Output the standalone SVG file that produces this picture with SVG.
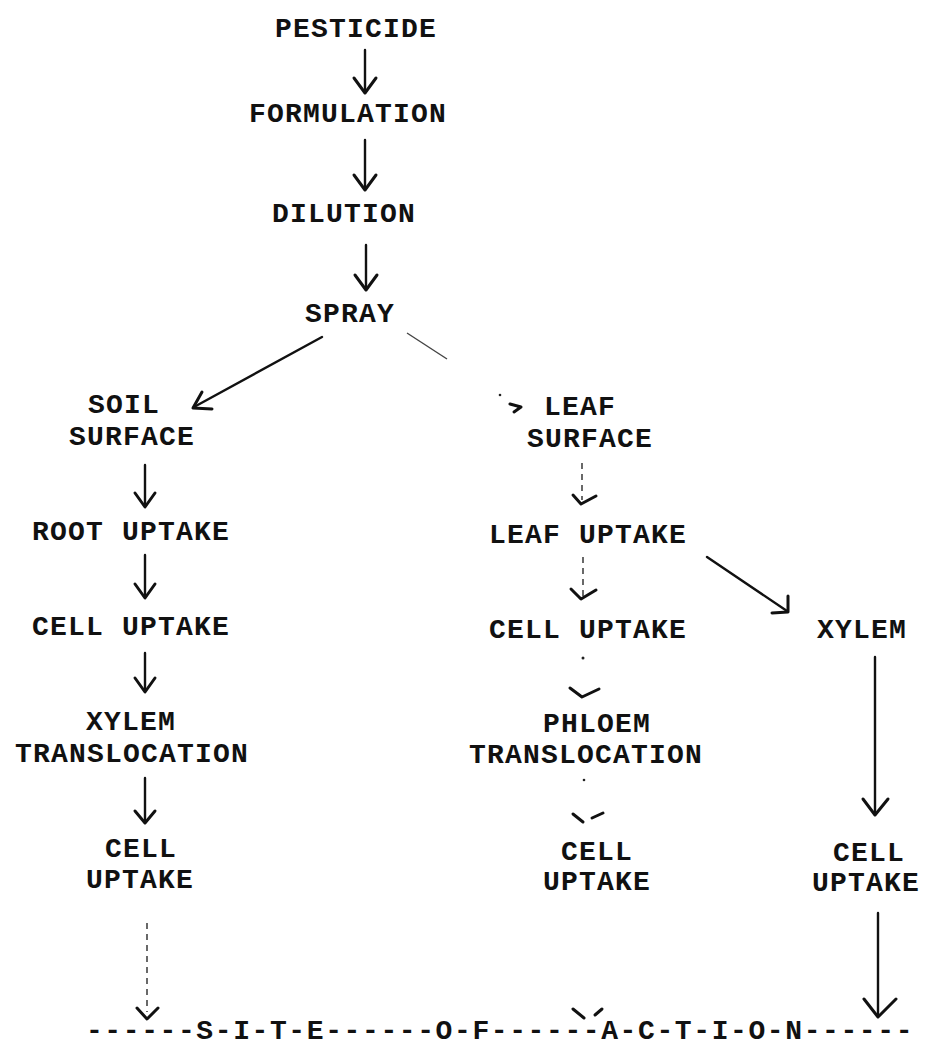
<svg xmlns="http://www.w3.org/2000/svg" width="928" height="1048" viewBox="0 0 928 1048">
<style>
text{font-family:"Liberation Mono","DejaVu Sans Mono",monospace;font-weight:bold;font-size:28px;letter-spacing:1.2px;fill:#111;text-anchor:middle}
.s{fill:none;stroke:#111;stroke-width:2.4;stroke-linecap:round;stroke-linejoin:round}
.h{fill:none;stroke:#111;stroke-width:3;stroke-linecap:round;stroke-linejoin:round}
.d{fill:none;stroke:#444;stroke-width:1.6;stroke-dasharray:6 5}
.dot{fill:#222}
</style>
<rect width="928" height="1048" fill="#fff"/>
<g id="connectors">
  <path class="s" d="M365 50V92"/><path class="h" d="M354 78L365 93L376 78"/>
  <path class="s" d="M365 140V189"/><path class="h" d="M354 175L365 190L376 175"/>
  <path class="s" d="M366 245V289"/><path class="h" d="M355 275L366 290L377 275"/>
  <path class="s" d="M322 337L194 407"/><path class="h" d="M202 392L193 408L212 409"/>
  <path fill="none" stroke="#444" stroke-width="1.4" d="M407 333L447 359"/>
  <circle class="dot" cx="500" cy="395" r="1.3"/>
  <path class="h" d="M510 404L521 407L514 412"/>
  <path class="s" d="M145 465V506"/><path class="h" d="M135 493L145 507L155 493"/>
  <path class="s" d="M145 555V597"/><path class="h" d="M135 584L145 598L155 584"/>
  <path class="s" d="M145 653V691"/><path class="h" d="M135 678L145 692L155 678"/>
  <path class="s" d="M145 778V822"/><path class="h" d="M135 811L145 823L155 811"/>
  <path class="d" d="M147 923V1012"/><path class="h" d="M137 1008L147 1019L158 1008"/>
  <path class="d" d="M582 463V500"/><path class="h" d="M573 495L581 504L596 496"/>
  <path class="d" d="M583 557V596"/><path class="h" d="M571 589L581 599L596 590"/>
  <circle class="dot" cx="583" cy="658" r="1.5"/><path class="h" d="M570 688L582 697L599 689"/>
  <circle class="dot" cx="584" cy="780" r="1.3"/><path class="h" d="M573 814L583 822"/><path class="h" d="M592 818L603 813"/>
  <path class="h" d="M573 1009L584 1018"/><path class="h" d="M595 1015L602 1009"/>
  <path class="s" d="M707 557L787 611"/><path class="h" d="M772 613L788 612L788 596"/>
  <path class="s" d="M875 657V813"/><path class="h" d="M863 799L875 815L888 799"/>
  <path class="s" d="M878 913V1015"/><path class="h" d="M864 999L878 1017L896 999"/>
</g>
<g id="pesticide"><text x="356" y="37">PESTICIDE</text></g>
<g id="formulation"><text x="348" y="122">FORMULATION</text></g>
<g id="dilution"><text x="344" y="222">DILUTION</text></g>
<g id="spray"><text x="350" y="322">SPRAY</text></g>
<g id="soil-surface"><text x="124" y="413">SOIL</text><text x="132" y="445">SURFACE</text></g>
<g id="root-uptake"><text x="131" y="540">ROOT UPTAKE</text></g>
<g id="cell-uptake-1"><text x="131" y="635">CELL UPTAKE</text></g>
<g id="xylem-translocation"><text x="131" y="730">XYLEM</text><text x="132" y="762">TRANSLOCATION</text></g>
<g id="cell-uptake-2"><text x="141" y="857">CELL</text><text x="140" y="888">UPTAKE</text></g>
<g id="leaf-surface"><text x="580" y="415">LEAF</text><text x="590" y="447">SURFACE</text></g>
<g id="leaf-uptake"><text x="588" y="543">LEAF UPTAKE</text></g>
<g id="cell-uptake-3"><text x="588" y="638">CELL UPTAKE</text></g>
<g id="phloem-translocation"><text x="597" y="732">PHLOEM</text><text x="586" y="763">TRANSLOCATION</text></g>
<g id="cell-uptake-4"><text x="597" y="860">CELL</text><text x="597" y="890">UPTAKE</text></g>
<g id="xylem"><text x="862" y="638">XYLEM</text></g>
<g id="cell-uptake-5"><text x="869" y="861">CELL</text><text x="866" y="891">UPTAKE</text></g>
<g id="site-of-action"><text x="500" y="1039" style="letter-spacing:1.6px">------S-I-T-E------O-F------A-C-T-I-O-N------</text></g>
</svg>
